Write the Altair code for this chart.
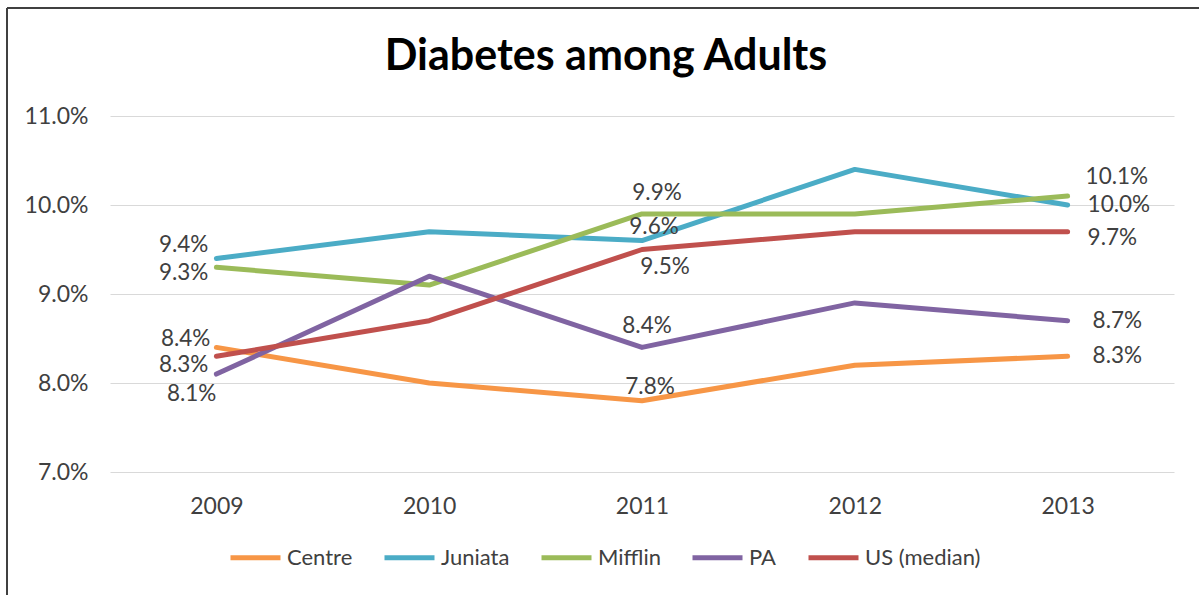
import altair as alt
import pandas as pd

years = ["2009", "2010", "2011", "2012", "2013"]
series_names = ["Centre", "Juniata", "Mifflin", "PA", "US (median)"]
centre = [8.4, 8.0, 7.8, 8.2, 8.3]
juniata = [9.4, 9.7, 9.6, 10.4, 10.0]
mifflin = [9.3, 9.1, 9.9, 9.9, 10.1]
pa = [8.1, 9.2, 8.4, 8.9, 8.7]
us_median = [8.3, 8.7, 9.5, 9.7, 9.7]
colors = ["#F79646", "#4BACC6", "#9BBB59", "#8064A2", "#C0504D"]
y_ticks = [0.07, 0.08, 0.09, 0.10, 0.11]

rows = []
for name, vals in zip(series_names, [centre, juniata, mifflin, pa, us_median]):
    for yr, v in zip(years, vals):
        rows.append({"Year": yr, "Series": name, "Value": v / 100})
df = pd.DataFrame(rows)

FONT = "Lato"
TXT = "#404040"

x_enc = alt.X("Year:O", sort=years, title=None,
              axis=alt.Axis(labelAngle=0, ticks=False, domain=False, grid=False,
                            labelFontSize=23, labelColor=TXT, labelPadding=23))
y_enc = alt.Y("Value:Q", title=None,
              scale=alt.Scale(domain=[0.07, 0.11], nice=False, zero=False),
              axis=alt.Axis(values=y_ticks, format=".1%", ticks=False, domain=False,
                            grid=True, gridColor="#D9D9D9", gridWidth=1.2,
                            labelFontSize=23, labelColor=TXT, labelPadding=22))

lines = alt.Chart(df).mark_line(strokeWidth=5, strokeCap="round", strokeJoin="round").encode(
    x=x_enc,
    y=y_enc,
    color=alt.Color("Series:N", sort=series_names,
                    scale=alt.Scale(domain=series_names, range=colors),
                    legend=alt.Legend(title=None, orient="none", direction="horizontal",
                                      legendX=118, legendY=414, symbolType="stroke",
                                      symbolStrokeWidth=5, symbolSize=2500,
                                      labelFontSize=22, labelColor=TXT, labelOffset=4,
                                      columnPadding=21, padding=0)),
)

# (series, year, align, dx, dy) label placement, as in the reference
label_specs = [
    ("Juniata", "2009", "right", -8, -13),
    ("Mifflin", "2009", "right", -8, 6),
    ("Centre", "2009", "right", -6, -8),
    ("US (median)", "2009", "right", -8, 9),
    ("PA", "2009", "right", 0, 20),
    ("Mifflin", "2011", "center", 15, -21),
    ("Juniata", "2011", "center", 12, -14),
    ("US (median)", "2011", "center", 23, 17),
    ("PA", "2011", "center", 5, -21),
    ("Centre", "2011", "center", 8, -14),
    ("Mifflin", "2013", "left", 18, -19),
    ("Juniata", "2013", "left", 20, 0),
    ("US (median)", "2013", "left", 20, 6),
    ("PA", "2013", "left", 25, 0),
    ("Centre", "2013", "left", 25, 0),
]

layers = [lines]
for s, yr, al, dx, dy in label_specs:
    t = alt.Chart(df).transform_filter(
        (alt.datum.Series == s) & (alt.datum.Year == yr)
    ).mark_text(align=al, baseline="middle", dx=dx, dy=dy, fontSize=22.5, color=TXT).encode(
        x=alt.X("Year:O", sort=years),
        y=alt.Y("Value:Q"),
        text=alt.Text("Value:Q", format=".1%"),
    )
    layers.append(t)

frame_df = pd.DataFrame({"k": [0]})
top_border = alt.Chart(frame_df).mark_rule(color="#404040", strokeWidth=2).encode(
    x=alt.value(-103), x2=alt.value(1089), y=alt.value(-108))
left_border = alt.Chart(frame_df).mark_rule(color="#404040", strokeWidth=2).encode(
    x=alt.value(-103), y=alt.value(-108), y2=alt.value(479))
layers += [top_border, left_border]

chart = alt.layer(*layers).properties(
    width=1064, height=356,
    title=alt.TitleParams("Diabetes among Adults", fontSize=43, fontWeight="bold",
                          color="black", anchor="middle", dx=-36, offset=-106,
                          baseline="alphabetic"),
    autosize=alt.AutoSizeParams(type="none"),
    padding={"left": 110, "top": 116, "right": 25, "bottom": 123},
).configure(font=FONT, background="white").configure_view(stroke=None)

chart.save("out.html", embed_options={"renderer": "svg", "actions": False})
